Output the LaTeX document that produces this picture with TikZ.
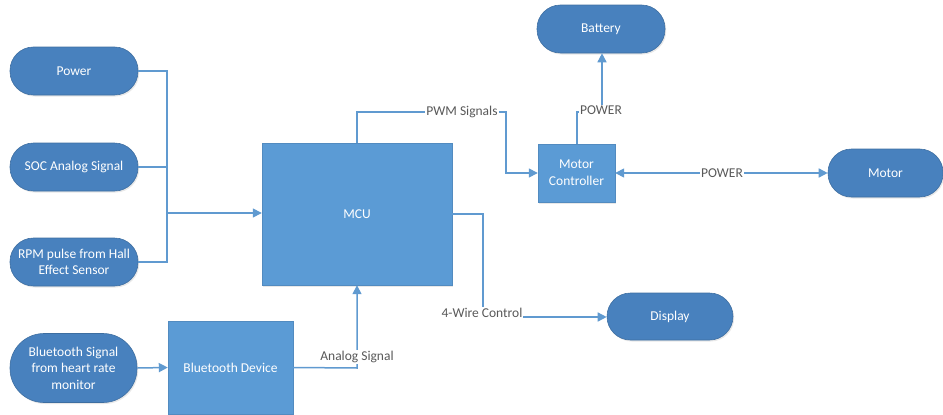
\documentclass[tikz,border=0pt]{standalone}
\usepackage{fontspec}
\setmainfont{Carlito}
\usetikzlibrary{arrows.meta,shadows}
\definecolor{pillblue}{RGB}{72,129,190}
\definecolor{boxblue}{RGB}{91,155,213}
\definecolor{lineblue}{RGB}{96,154,208}
\definecolor{labelgray}{RGB}{89,89,89}
\tikzset{
  pill/.style={draw=pillblue!85!black, line width=0.6pt, fill=pillblue, text=white, rounded corners=23.5pt,
    minimum width=128pt, minimum height=48pt, inner sep=1pt, align=center,
    font=\fontsize{13.5}{16.5}\selectfont,
    drop shadow={opacity=0.18, shadow xshift=1.2pt, shadow yshift=-1.5pt}},
  blk/.style={draw=boxblue!90!black, line width=0.4pt, fill=boxblue, text=white, inner sep=1pt, align=center,
    font=\fontsize{13.5}{17}\selectfont,
    drop shadow={opacity=0.18, shadow xshift=1.2pt, shadow yshift=-1.5pt}},
  conn/.style={draw=lineblue, line width=1.5pt},
  arr/.style={conn, -{Triangle[length=9pt,width=9pt]}},
  darr/.style={conn, {Triangle[length=9pt,width=9pt]}-{Triangle[length=9pt,width=9pt]}},
  lbl/.style={fill=white, text=labelgray, inner sep=1pt, font=\fontsize{13.5}{16}\selectfont}
}
\begin{document}
\begin{tikzpicture}[x=1pt,y=-1pt]
\useasboundingbox (0,0) rectangle (943,415);
% nodes
\node[pill] (power) at (74,71) {Power};
\node[pill] (soc) at (74,167) {SOC Analog Signal};
\node[pill] (rpm) at (74,262) {RPM pulse from Hall\\Effect Sensor};
\node[pill, minimum width=127pt, minimum height=69pt, rounded corners=34pt] (bts) at (73.5,368) {Bluetooth Signal\\from heart rate\\monitor};
\node[blk, minimum width=190pt, minimum height=142pt] (mcu) at (357,214) {MCU};
\node[blk, minimum width=125pt, minimum height=93pt] (btd) at (230.5,367.5) {Bluetooth Device};
\node[blk, minimum width=77pt, minimum height=58pt] (mc) at (576.5,173) {Motor\\Controller};
\node[pill] (battery) at (601,29) {Battery};
\node[pill, minimum width=115pt] (motor) at (885.5,173) {Motor};
\node[pill, minimum width=126pt, minimum height=47pt] (display) at (670,316.5) {Display};
% input bus
\coordinate (busT) at (167,71);
\coordinate (busB) at (167,262);
\draw[conn] (power.east) -- (busT) -- (busB) -- (rpm.east);
\draw[conn] (soc.east) -- (soc.east -| busT);
\draw[arr] (167,213) -- (mcu.west |- 0,213);
% bluetooth
\draw[arr] (bts.east) -- (btd.west);
\coordinate (anc) at (357,368);
\draw[arr] (btd.east) -- (anc) -- (mcu.south);
\node[lbl] (alab) at (357,357) {Analog Signal};
% PWM
\coordinate (pw1) at (357,112);
\coordinate (pw2) at (506,112);
\draw[arr] (mcu.north) -- (pw1) -- (pw2) |- (mc.west);
\node[lbl] (pwml) at (462,112) {PWM Signals};
% Power to battery
\coordinate (pb1) at (577,112);
\coordinate (pb2) at (602,112);
\draw[conn] (mc.north -| pb1) -- (pb1) -- (pb2);
\draw[arr] (pb2) -- (battery.south -| pb2);
\node[lbl] (pbl) at (601,110) {POWER};
% motor
\draw[darr] (mc.east) -- (motor.west);
\node[lbl] (pml) at (722,173) {POWER};
% 4-wire
\coordinate (fw1) at (483,214);
\coordinate (fw2) at (483,317);
\draw[arr] (mcu.east |- fw1) -- (fw1) -- (fw2) -- (display.west |- fw2);
\node[lbl] (fwl) at (482,313) {4-Wire Control};
\end{tikzpicture}
\end{document}
